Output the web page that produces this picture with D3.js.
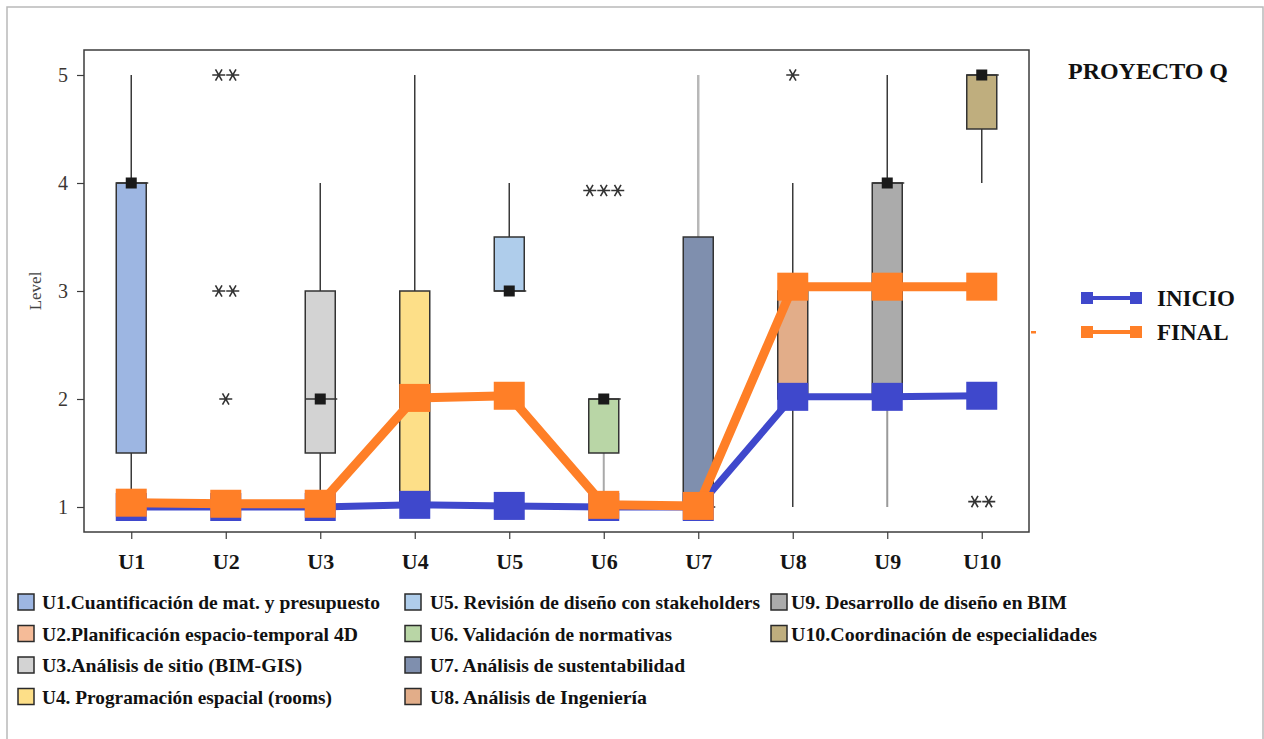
<!DOCTYPE html>
<html>
<head>
<meta charset="utf-8">
<script src="https://cdn.jsdelivr.net/npm/d3@7"></script>
<style>
  html, body { margin: 0; padding: 0; background: #ffffff; }
  svg { display: block; }
  text { font-family: "Liberation Serif", "Times New Roman", serif; }
</style>
</head>
<body>
<svg id="chart" width="1264" height="739"></svg>
<script>
// ---------- data ----------
const categories   = ["U1","U2","U3","U4","U5","U6","U7","U8","U9","U10"];
const q1Values     = [1.5, 1,   1.5, 1,   3,   1.5, 1,   2,   2,   4.5];
const q3Values     = [4,   1,   3,   3,   3.5, 2,   3.5, 3,   4,   5  ];
const medianValues = [4,   1,   2,   1,   3,   2,   1,   2,   4,   5  ];
const whiskerLow   = [1,   1,   1,   1,   3,   1,   1,   1,   1,   4  ];
const whiskerHigh  = [5,   1,   4,   5,   4,   2,   5,   4,   5,   5  ];

const outlierCategory = ["U2","U2","U2","U5","U6","U8","U10"];
const outlierValue    = [5,   3,   2,   1.05, 3.93, 5,  1.05];
const outlierCount    = [2,   2,   1,   2,   3,   1,   2  ];

const inicioValues = [1, 1, 1, 1.02, 1.01, 1, 1, 2.02, 2.02, 2.03];
const finalValues  = [1.04, 1.03, 1.03, 2.01, 2.03, 1.02, 1.01, 3.04, 3.04, 3.04];

const yTicks = [1, 2, 3, 4, 5];
const seriesNames = ["INICIO", "FINAL"];
const chartTitle = "PROYECTO Q";
const yAxisTitle = "Level";

const legendLabels = [
  "U1.Cuantificación de mat. y presupuesto",
  "U2.Planificación espacio-temporal 4D",
  "U3.Análisis de sitio (BIM-GIS)",
  "U4. Programación espacial (rooms)",
  "U5. Revisión de diseño con stakeholders",
  "U6. Validación de normativas",
  "U7. Análisis de sustentabilidad",
  "U8. Análisis de Ingeniería",
  "U9. Desarrollo de diseño en BIM",
  "U10.Coordinación de especialidades"
];

// ---------- styles ----------
const boxColors = ["#9db6e2","#f5bb98","#d3d3d3","#fddf88","#afcdeb",
                   "#b9d6a6","#7f8fae","#e2ad89","#ababab","#bfae7e"];
const lowWhiskerColor  = {U6: "#a9a9a9", U9: "#9a9a9a"};
const highWhiskerColor = {U7: "#b8b8b8"};
const seriesColors = ["#3f48cc", "#ff7f27"];
const seriesWidths = [7, 9];
const legendTextLen = [338, 316, 260, 290, 330, 242, 255, 217, 276, 306];

// ---------- layout ----------
const svg = d3.select("#chart");
const plot = {left: 84, right: 1029, top: 50, bottom: 532};

const x = d3.scalePoint().domain(categories).range([plot.left, plot.right]).padding(0.5);
const y = d3.scaleLinear().domain([0.7685, 5.2315]).range([plot.bottom, plot.top]);

// outer frame
svg.append("rect").attr("x", 7).attr("y", 7).attr("width", 1256).attr("height", 745)
  .attr("fill", "none").attr("stroke", "#b9b9b9").attr("stroke-width", 1.5);

// plot frame
svg.append("rect").attr("x", plot.left).attr("y", plot.top)
  .attr("width", plot.right - plot.left).attr("height", plot.bottom - plot.top)
  .attr("fill", "none").attr("stroke", "#3c3c3c").attr("stroke-width", 1.5);

// axes
const yAxis = svg.append("g").attr("transform", `translate(${plot.left},0)`)
  .call(d3.axisLeft(y).tickValues(yTicks).tickSize(7).tickPadding(9).tickFormat(d3.format("d")));
yAxis.select(".domain").remove();
yAxis.selectAll("line").attr("stroke", "#3c3c3c").attr("stroke-width", 1.2);
yAxis.selectAll("text").attr("font-size", 20).attr("fill", "#3b3633")
  .style("font-family", "'Liberation Serif', serif");

const xAxis = svg.append("g").attr("transform", `translate(0,${plot.bottom})`)
  .call(d3.axisBottom(x).tickSize(7).tickPadding(14));
xAxis.select(".domain").remove();
xAxis.selectAll("line").attr("stroke", "#3c3c3c").attr("stroke-width", 1.2);
xAxis.selectAll("text").attr("font-size", 22).attr("font-weight", "bold").attr("fill", "#151515")
  .style("font-family", "'Liberation Serif', serif");

svg.append("text").attr("transform", `translate(41,${(y(3))}) rotate(-90)`)
  .attr("text-anchor", "middle").attr("font-size", 17).attr("fill", "#444")
  .text(yAxisTitle);

// ---------- boxes ----------
const boxW = 30;
const boxes = svg.append("g");
categories.forEach((c, i) => {
  const cx = x(c);
  const g = boxes.append("g");
  // whiskers
  if (whiskerHigh[i] > q3Values[i]) {
    g.append("line").attr("x1", cx).attr("x2", cx)
      .attr("y1", y(q3Values[i])).attr("y2", y(whiskerHigh[i]))
      .attr("stroke", highWhiskerColor[c] || "#3a3a3a")
      .attr("stroke-width", highWhiskerColor[c] ? 2.5 : 1.5);
  }
  if (whiskerLow[i] < q1Values[i]) {
    g.append("line").attr("x1", cx).attr("x2", cx)
      .attr("y1", y(q1Values[i])).attr("y2", y(whiskerLow[i]))
      .attr("stroke", lowWhiskerColor[c] || "#3a3a3a")
      .attr("stroke-width", lowWhiskerColor[c] ? 2 : 1.5);
  }
  // box
  if (q3Values[i] > q1Values[i]) {
    g.append("rect").attr("x", cx - boxW / 2).attr("y", y(q3Values[i]))
      .attr("width", boxW).attr("height", y(q1Values[i]) - y(q3Values[i]))
      .attr("fill", boxColors[i]).attr("stroke", "#333").attr("stroke-width", 1.5);
    g.append("line").attr("x1", cx - boxW / 2).attr("x2", cx + boxW / 2 + 2)
      .attr("y1", y(medianValues[i])).attr("y2", y(medianValues[i]))
      .attr("stroke", "#333").attr("stroke-width", 1.5);
  }
  // median marker
  g.append("rect").attr("x", cx - 5.5).attr("y", y(medianValues[i]) - 5.5)
    .attr("width", 11).attr("height", 11).attr("fill", "#1a1a1a");
});

// outliers (asterisks)
const starR = 6.5, starGap = 14;
function starPath(cx, cy) {
  let p = "";
  [0, 60, 120].forEach(a => {
    const r = a * Math.PI / 180;
    const dx = Math.cos(r) * starR, dy = Math.sin(r) * starR;
    p += `M${cx - dx},${cy - dy}L${cx + dx},${cy + dy}`;
  });
  return p;
}
outlierCategory.forEach((c, i) => {
  const n = outlierCount[i];
  const cy = y(outlierValue[i]);
  for (let k = 0; k < n; k++) {
    const cx = x(c) + (k - (n - 1) / 2) * starGap;
    svg.append("path").attr("d", starPath(cx, cy))
      .attr("stroke", "#333").attr("stroke-width", 1.6).attr("fill", "none");
  }
});

// ---------- series lines ----------
const mW = 31, mH = 28;
[inicioValues, finalValues].forEach((vals, s) => {
  const line = d3.line().x((d, i) => x(categories[i])).y(d => y(d));
  svg.append("path").datum(vals).attr("d", line)
    .attr("fill", "none").attr("stroke", seriesColors[s])
    .attr("stroke-width", seriesWidths[s]).attr("stroke-linejoin", "miter");
  svg.append("g").selectAll("rect").data(vals).join("rect")
    .attr("x", (d, i) => x(categories[i]) - mW / 2)
    .attr("y", d => y(d) - mH / 2)
    .attr("width", mW).attr("height", mH)
    .attr("fill", seriesColors[s]);
});

// ---------- right legend ----------
svg.append("text").attr("x", 1068).attr("y", 79).attr("font-size", 23)
  .attr("font-weight", "bold").attr("fill", "#111")
  .attr("textLength", 160).attr("lengthAdjust", "spacingAndGlyphs")
  .text(chartTitle);

seriesNames.forEach((name, s) => {
  const ly = 298 + s * 34;
  svg.append("line").attr("x1", 1086).attr("x2", 1137).attr("y1", ly).attr("y2", ly)
    .attr("stroke", seriesColors[s]).attr("stroke-width", 4);
  [1081, 1130].forEach(lx => {
    svg.append("rect").attr("x", lx).attr("y", ly - 6).attr("width", 12).attr("height", 12)
      .attr("fill", seriesColors[s]);
  });
  svg.append("text").attr("x", 1157).attr("y", ly + 8).attr("font-size", 23)
    .attr("font-weight", "bold").attr("fill", "#111").text(name);
});
// small orange tick mark beside plot
svg.append("rect").attr("x", 1031).attr("y", 331).attr("width", 5).attr("height", 2.5)
  .attr("fill", seriesColors[1]);

// ---------- bottom legend ----------
const colSquareX = [18, 405, 771];
const colTextX = [42, 430, 791];
legendLabels.forEach((lab, i) => {
  const col = i < 4 ? 0 : (i < 8 ? 1 : 2);
  const row = i < 4 ? i : (i < 8 ? i - 4 : i - 8);
  const cy = 602 + row * 31.5;
  svg.append("rect").attr("x", colSquareX[col]).attr("y", cy - 8)
    .attr("width", 16).attr("height", 16)
    .attr("fill", boxColors[i]).attr("stroke", "#2a2a2a").attr("stroke-width", 1.5);
  svg.append("text").attr("x", colTextX[col]).attr("y", cy + 7)
    .attr("font-size", 19).attr("font-weight", "bold").attr("fill", "#111")
    .attr("textLength", legendTextLen[i]).attr("lengthAdjust", "spacingAndGlyphs")
    .text(lab);
});
</script>
</body>
</html>
